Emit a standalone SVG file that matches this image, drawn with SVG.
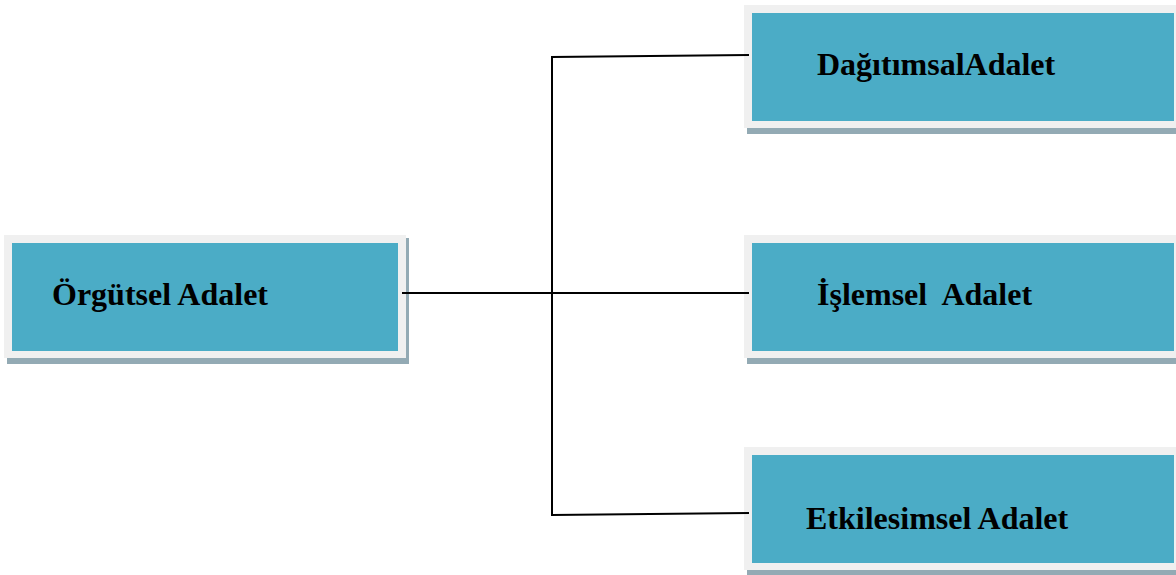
<svg xmlns="http://www.w3.org/2000/svg" width="1176" height="575" viewBox="0 0 1176 575">
<style>
.shadow{fill:#93aab4}
.frame{fill:#f0f0f0}
.box{fill:#4bacc6}
.lbl{font-family:"Liberation Serif","Times New Roman",serif;font-weight:bold;font-size:32px;fill:#000}
.conn{stroke:#000;stroke-width:2;fill:none}
</style>
<rect width="1176" height="575" fill="#fff"/>
<g id="node-orgutsel">
<rect class="shadow" x="7" y="238" width="402" height="126"/>
<rect class="frame" x="4" y="235" width="402" height="123"/>
<rect class="box" x="12" y="243" width="386" height="108"/>
<text class="lbl" x="52" y="305">Örgütsel Adalet</text>
</g>
<g id="node-dagitimsal">
<rect class="shadow" x="747" y="8" width="440" height="126"/>
<rect class="frame" x="744" y="5" width="440" height="123"/>
<rect class="box" x="752" y="13" width="422" height="108"/>
<text class="lbl" x="817" y="75">DağıtımsalAdalet</text>
</g>
<g id="node-islemsel">
<rect class="shadow" x="747" y="238" width="440" height="126"/>
<rect class="frame" x="744" y="235" width="440" height="123"/>
<rect class="box" x="752" y="243" width="422" height="108"/>
<text class="lbl" x="817" y="305" xml:space="preserve">İşlemsel  Adalet</text>
</g>
<g id="node-etkilesimsel">
<rect class="shadow" x="747" y="450" width="440" height="126"/>
<rect class="frame" x="744" y="447" width="440" height="123"/>
<rect class="box" x="752" y="455" width="422" height="108"/>
<text class="lbl" x="806" y="529">Etkilesimsel Adalet</text>
</g>
<g id="connectors">
<polyline class="conn" points="749,55 552,57 552,515 749,513"/>
<line class="conn" x1="402" y1="293" x2="749" y2="293"/>
</g>
</svg>
